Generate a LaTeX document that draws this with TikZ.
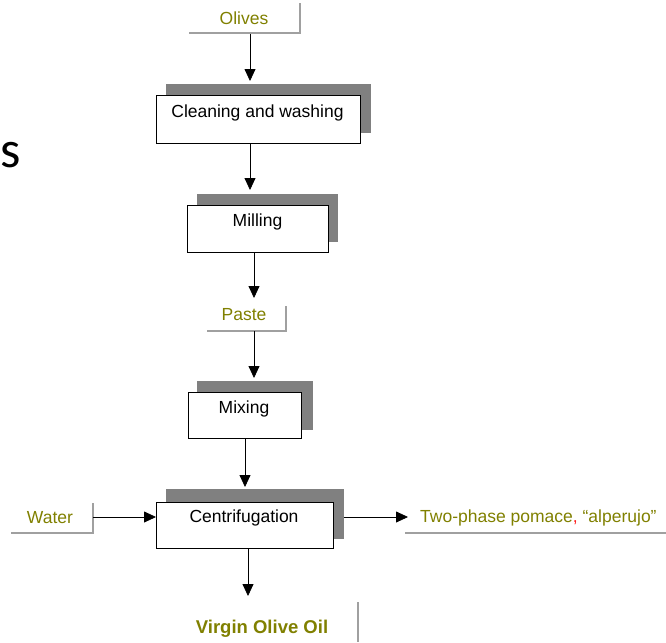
\documentclass[tikz,border=0pt]{standalone}
\usepackage{fontspec}
\setmainfont{Liberation Sans}
\newfontfamily\slidefont{Carlito}
\usetikzlibrary{arrows.meta}
\definecolor{olivetext}{HTML}{808000}
\definecolor{shadowgray}{HTML}{808080}
\definecolor{linegray}{HTML}{A0A0A0}
\definecolor{commared}{HTML}{FF2020}
\tikzset{
  procbox/.style={draw=black, fill=white, line width=0.8pt, inner sep=0pt, font=\fontsize{17}{20}\selectfont},
  shadowbox/.style={fill=shadowgray, draw=none},
  flowlabel/.style={text=olivetext, font=\fontsize{17.5}{20}\selectfont, inner sep=0pt},
  flowarrow/.style={draw=black, line width=0.8pt, -{Triangle[length=12pt,width=11pt]}},
  grayline/.style={draw=linegray, line width=1.2pt},
}
\begin{document}
\begin{tikzpicture}[x=1pt,y=-1pt]
\useasboundingbox (0,0) rectangle (666,642);
% slide fragment at left
\node[anchor=west, inner sep=0pt, font=\slidefont\fontsize{52}{56}\selectfont] (frag) at (0.5,155) {s};

% Olives
\node[flowlabel] (olives) at (244,18) {Olives};
\draw[grayline] (189,33) -- (300,33) -- (300,3);
\coordinate (olivesout) at (250,34);

% Cleaning and washing
\fill[shadowgray] (166,84) rectangle (371,133);
\node[procbox, minimum width=204pt, minimum height=48pt] (clean) at (258,119) {};
\node[font=\fontsize{17.5}{20}\selectfont, inner sep=0pt] (cleantxt) at (257.5,113) {Cleaning and washing};

% Milling
\fill[shadowgray] (197,194) rectangle (338,242);
\node[procbox, minimum width=141pt, minimum height=47pt] (mill) at (257.5,228.5) {};
\node[font=\fontsize{17.5}{20}\selectfont, inner sep=0pt] (milltxt) at (257.5,222) {Milling};

% Paste
\node[flowlabel] (paste) at (244,315) {Paste};
\draw[grayline] (207,331) -- (286,331) -- (286,306);
\coordinate (pasteout) at (254,331);

% Mixing
\fill[shadowgray] (197,381) rectangle (313,430);
\node[procbox, minimum width=113pt, minimum height=46pt] (mix) at (244.5,415) {};
\node[font=\fontsize{17.5}{20}\selectfont, inner sep=0pt] (mixtxt) at (244,409) {Mixing};

% Centrifugation
\fill[shadowgray] (166,489) rectangle (344,539);
\node[procbox, minimum width=177pt, minimum height=46pt] (cent) at (244.5,525) {};
\node[font=\fontsize{17.5}{20}\selectfont, inner sep=0pt] (centtxt) at (244,518) {Centrifugation};

% Water
\node[flowlabel] (water) at (50,518) {Water};
\draw[grayline] (11,533) -- (93,533) -- (93,503);
\coordinate (waterout) at (93,517);

% Pomace
\node[flowlabel, anchor=west] (pomace) at (420,518) {Two-phase pomace\textcolor{commared}{,} “alperujo”};
\draw[grayline] (405,533) -- (666,533);
\coordinate (pomacein) at (408,517);
\coordinate (centright) at (344,517);

% Virgin Olive Oil
\node[flowlabel, font=\bfseries\fontsize{18.5}{22}\selectfont] (oil) at (262,629) {Virgin Olive Oil};
\draw[grayline] (358,602) -- (358,642);
\coordinate (oilin) at (248,596);

% arrows
\draw[flowarrow] (olivesout) -- (250,81);
\draw[flowarrow] (250,143) -- (250,190);
\draw[flowarrow] (254,252) -- (pasteout |- 0,298);
\draw[flowarrow] (pasteout) -- (254,378);
\draw[flowarrow] (245,438) -- (245,487);
\draw[flowarrow] (waterout) -- (156,517);
\draw[flowarrow] (centright) -- (pomacein);
\draw[flowarrow] (248,548) -- (oilin);
\end{tikzpicture}
\end{document}
